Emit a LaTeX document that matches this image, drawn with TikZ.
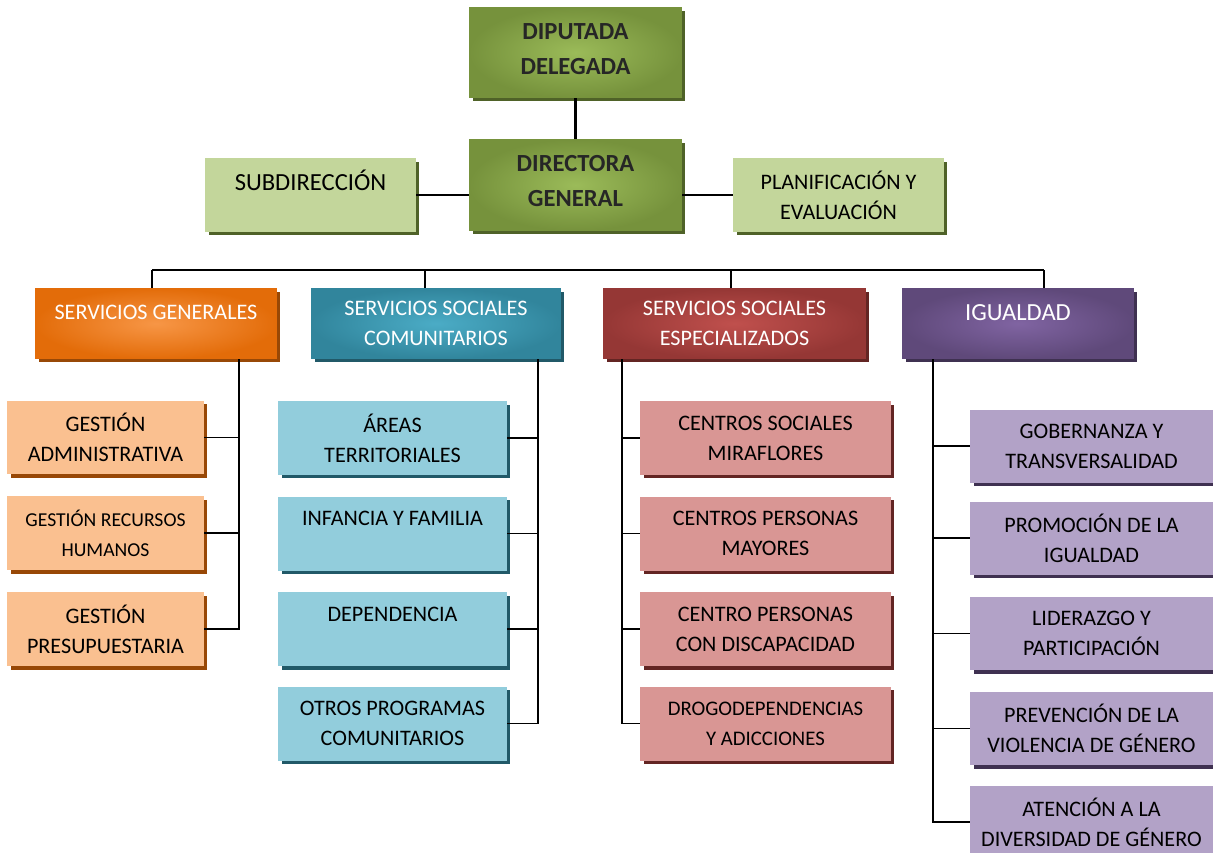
\documentclass[tikz,border=0pt]{standalone}
\usepackage{fontspec}
\setmainfont{Carlito}
\usetikzlibrary{shadows}

\definecolor{greenout}{HTML}{76923C}
\definecolor{greenin}{HTML}{9BBB59}
\definecolor{greensh}{HTML}{4F6228}
\definecolor{greenlt}{HTML}{C3D69B}
\definecolor{orangeout}{HTML}{E36C09}
\definecolor{orangein}{HTML}{F79646}
\definecolor{orangesh}{HTML}{984806}
\definecolor{orangelt}{HTML}{FAC090}
\definecolor{tealout}{HTML}{31859C}
\definecolor{tealin}{HTML}{4BACC6}
\definecolor{tealsh}{HTML}{215968}
\definecolor{teallt}{HTML}{92CDDC}
\definecolor{redout}{HTML}{953735}
\definecolor{redin}{HTML}{C0504D}
\definecolor{redsh}{HTML}{632523}
\definecolor{redlt}{HTML}{D99694}
\definecolor{purpout}{HTML}{5F497A}
\definecolor{purpin}{HTML}{8064A2}
\definecolor{purpsh}{HTML}{3F3151}
\definecolor{purplt}{HTML}{B2A2C7}
\definecolor{txtdark}{HTML}{262626}

\tikzset{
    shadowed/.style={general shadow={fill=#1, shadow xshift=0.07cm, shadow yshift=-0.07cm}},
    topbox/.style={shadowed=greensh, inner color=greenin, outer color=greenout,
        minimum width=4.26cm, minimum height=1.82cm, inner sep=2pt, align=center,
        text depth=0.15cm, text=txtdark, font=\bfseries\fontsize{14}{20}\selectfont},
    sidebox/.style={shadowed=greensh, fill=greenlt,
        minimum width=4.22cm, minimum height=1.48cm, inner sep=2pt, align=center,
        font=\fontsize{12.6}{17}\selectfont},
    headbox/.style n args={3}{shadowed=#3, inner color=#1, outer color=#2,
        minimum height=1.42cm, inner sep=2pt, align=center, text=white,
        font=\fontsize{12.6}{17}\selectfont},
    subbox/.style 2 args={shadowed=#2, fill=#1,
        minimum height=1.48cm, inner sep=2pt, align=center,
        font=\fontsize{12.6}{17}\selectfont},
    toplink/.style={line width=1.7pt},
    buslink/.style={line width=1.2pt},
    sublink/.style={line width=0.9pt}
}

\begin{document}
\begin{tikzpicture}[x=0.02cm, y=-0.02cm]
    \clip (0,0) rectangle (1213,852);

    % direccion
    \node [topbox] (dip) at (575.5,52.5) {DIPUTADA\\DELEGADA};
    \node [topbox] (dir) at (575.5,185) {DIRECTORA\\GENERAL};
    \node [sidebox, font=\fontsize{14}{17}\selectfont] (sub) at (310.5,195) {SUBDIRECCIÓN\\\mbox{}};
    \node [sidebox] (plan) at (838.5,195) {PLANIFICACIÓN Y\\EVALUACIÓN};
    \draw [toplink] (dip) -- (dir);
    \draw [toplink] (sub.east) -- (sub.east -| dir.west);
    \draw [toplink] (plan.west -| dir.east) -- (plan.west);

    % areas
    \node [headbox={orangein}{orangeout}{orangesh}, minimum width=4.84cm] (sg) at (156,323.5) {SERVICIOS GENERALES\\[-4pt]\mbox{}};
    \node [headbox={tealin}{tealout}{tealsh}, minimum width=5.0cm] (ssc) at (436,323.5) {SERVICIOS SOCIALES\\COMUNITARIOS};
    \node [headbox={redin}{redout}{redsh}, minimum width=5.26cm] (sse) at (734.5,323.5) {SERVICIOS SOCIALES\\ESPECIALIZADOS};
    \node [headbox={purpin}{purpout}{purpsh}, minimum width=4.64cm, font=\fontsize{14}{17}\selectfont] (ig) at (1018,323.5) {IGUALDAD\\[-4pt]\mbox{}};
    \foreach \n/\x in {sg/152, ssc/425, sse/731, ig/1044} {
        \coordinate (bus-\n) at (\x,270);
        \draw [buslink] (bus-\n) -- (bus-\n |- \n.north);
    }
    \draw [buslink] (bus-sg) -- (bus-ig);

    % servicios generales
    \node [subbox={orangelt}{orangesh}, minimum width=3.94cm] (ga) at (105.5,437.5) {GESTIÓN\\ADMINISTRATIVA};
    \node [subbox={orangelt}{orangesh}, minimum width=3.94cm, font=\fontsize{11.2}{17}\selectfont] (grh) at (105.5,533) {GESTIÓN RECURSOS\\HUMANOS};
    \node [subbox={orangelt}{orangesh}, minimum width=3.94cm] (gp) at (105.5,629) {GESTIÓN\\PRESUPUESTARIA};
    \coordinate (sg-trunk) at (239,0);
    \draw [sublink] (sg.south -| sg-trunk) |- (gp.east);
    \foreach \n in {ga, grh}
        \draw [sublink] (\n.east) -- (\n.east -| sg-trunk);

    % servicios sociales comunitarios
    \node [subbox={teallt}{tealsh}, minimum width=4.58cm] (at) at (392.5,438) {ÁREAS\\TERRITORIALES};
    \node [subbox={teallt}{tealsh}, minimum width=4.58cm] (inf) at (392.5,533.5) {INFANCIA Y FAMILIA\\\mbox{}};
    \node [subbox={teallt}{tealsh}, minimum width=4.58cm] (dep) at (392.5,629) {DEPENDENCIA\\\mbox{}};
    \node [subbox={teallt}{tealsh}, minimum width=4.58cm] (opc) at (392.5,723.5) {OTROS PROGRAMAS\\COMUNITARIOS};
    \coordinate (ssc-trunk) at (538,0);
    \draw [sublink] (ssc.south -| ssc-trunk) |- (opc.east);
    \foreach \n in {at, inf, dep}
        \draw [sublink] (\n.east) -- (\n.east -| ssc-trunk);

    % servicios sociales especializados
    \node [subbox={redlt}{redsh}, minimum width=5.02cm] (csm) at (765.5,438) {CENTROS SOCIALES\\MIRAFLORES};
    \node [subbox={redlt}{redsh}, minimum width=5.02cm] (cpm) at (765.5,533.5) {CENTROS PERSONAS\\MAYORES};
    \node [subbox={redlt}{redsh}, minimum width=5.02cm] (cpd) at (765.5,629) {CENTRO PERSONAS\\CON DISCAPACIDAD};
    \node [subbox={redlt}{redsh}, minimum width=5.02cm, font=\fontsize{11.8}{17}\selectfont] (dro) at (765.5,723.5) {DROGODEPENDENCIAS\\Y ADICCIONES};
    \coordinate (sse-trunk) at (622,0);
    \draw [sublink] (sse.south -| sse-trunk) |- (dro.west);
    \foreach \n in {csm, cpm, cpd}
        \draw [sublink] (\n.west) -- (\n.west -| sse-trunk);

    % igualdad
    \node [subbox={purplt}{purpsh}, minimum width=4.86cm, minimum height=1.46cm] (gob) at (1091.5,446) {GOBERNANZA Y\\TRANSVERSALIDAD};
    \node [subbox={purplt}{purpsh}, minimum width=4.86cm, minimum height=1.46cm] (pro) at (1091.5,538) {PROMOCIÓN DE LA\\IGUALDAD};
    \node [subbox={purplt}{purpsh}, minimum width=4.86cm, minimum height=1.46cm] (lid) at (1091.5,633.5) {LIDERAZGO Y\\PARTICIPACIÓN};
    \node [subbox={purplt}{purpsh}, minimum width=4.86cm, minimum height=1.46cm] (pvg) at (1091.5,728.5) {PREVENCIÓN DE LA\\VIOLENCIA DE GÉNERO};
    \node [subbox={purplt}{purpsh}, minimum width=4.86cm, minimum height=1.46cm] (adg) at (1091.5,822) {ATENCIÓN A LA\\DIVERSIDAD DE GÉNERO};
    \coordinate (ig-trunk) at (933,0);
    \draw [sublink] (ig.south -| ig-trunk) |- (adg.west);
    \foreach \n in {gob, pro, lid, pvg}
        \draw [sublink] (\n.west) -- (\n.west -| ig-trunk);
\end{tikzpicture}
\end{document}
